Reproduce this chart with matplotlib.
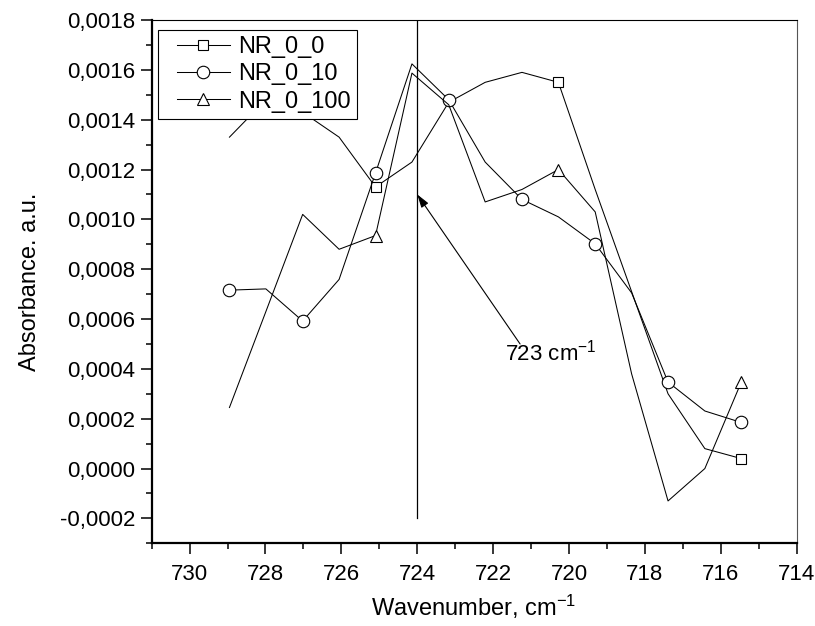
import matplotlib
matplotlib.use("Agg")
import matplotlib.pyplot as plt
from matplotlib.lines import Line2D
from matplotlib.legend_handler import HandlerLine2D
from matplotlib.ticker import MultipleLocator, FuncFormatter

plt.rcParams['font.family'] = ['Liberation Sans', 'DejaVu Sans']
plt.rcParams['mathtext.fontset'] = 'custom'
plt.rcParams['mathtext.rm'] = 'Liberation Sans'
plt.rcParams['mathtext.default'] = 'regular'

# wavenumbers, cm-1
wavenumber = [728.95, 727.99, 727.02, 726.06, 725.10, 724.14, 723.17, 722.21,
              721.24, 720.28, 719.31, 718.35, 717.39, 716.42, 715.46]

nr_0_0 = [0.00133, 0.00148, 0.00143, 0.00133, 0.00113, 0.00123, 0.00147, 0.00155,
          0.00159, 0.00155, 0.00112, 0.00071, 0.00030, 0.00008, 0.00004]
nr_0_10 = [0.000716, 0.000721, 0.000592, 0.000759, 0.001186, 0.001624, 0.00148, 0.00123,
           0.00108, 0.00101, 0.000902, 0.000705, 0.000347, 0.000231, 0.000185]
nr_0_100 = [0.000245, 0.00063, 0.00102, 0.00088, 0.000935, 0.001587, 0.00146, 0.00107,
            0.00112, 0.0012, 0.00103, 0.00038, -0.00013, 0.0000, 0.000347]

series = [
    ("NR_0_0", nr_0_0, "s", 7.5, [4, 9, 14]),
    ("NR_0_10", nr_0_10, "o", 9, list(range(0, 15, 2))),
    ("NR_0_100", nr_0_100, "^", 9, [4, 9, 14]),
]

fig = plt.figure(figsize=(8.15, 6.26), dpi=100)
ax = fig.add_axes([0.1861, 0.1321, 0.7914, 0.8359])

handles = []
for name, vals, mk, ms, every in series:
    ax.plot(wavenumber, vals, color="black", lw=0.75, marker=mk, ms=ms,
            mfc="white", mec="black", mew=0.8, markevery=every)
    handles.append(Line2D([], [], color="black", lw=0.75, marker=mk, ms=ms,
                          mfc="white", mec="black", mew=0.8))

# marker line at 723 band
ax.plot([724, 724], [-0.0002, 0.0018], color="black", lw=0.9)
ax.annotate("", xy=(724.0, 0.00110), xytext=(721.29, 0.00050),
            arrowprops=dict(arrowstyle="-|>,head_length=0.8,head_width=0.25",
                            color="black", lw=0.8, shrinkA=0, shrinkB=0))
ax.text(721.68, 0.000465, "723 cm$^{-1}$", fontsize=16, ha="left", va="center")

ax.set_xlim(731, 714)
ax.set_ylim(-0.0003, 0.0018)
ax.xaxis.set_major_locator(MultipleLocator(2))
ax.xaxis.set_minor_locator(MultipleLocator(1))
ax.yaxis.set_major_locator(MultipleLocator(0.0002))
ax.yaxis.set_minor_locator(MultipleLocator(0.0001))
ax.yaxis.set_major_formatter(FuncFormatter(lambda v, p: f"{v:.4f}".replace(".", ",").replace("-0,0000", "0,0000")))
ax.xaxis.set_major_formatter(FuncFormatter(lambda v, p: f"{v:.0f}"))

ax.tick_params(which="major", direction="out", length=8, width=1.1, labelsize=16)
ax.tick_params(axis="x", which="major", pad=7)
ax.tick_params(axis="y", which="major", pad=4)
ax.tick_params(which="minor", direction="out", length=4, width=1.1)
ax.tick_params(top=False, right=False)
for s in ["left", "bottom"]:
    ax.spines[s].set_linewidth(1.6)
for s in ["top", "right"]:
    ax.spines[s].set_linewidth(0.8)
ax.spines["right"].set_color("#555555")

ax.set_xlabel("Wavenumber, cm$^{-1}$", fontsize=17)
ax.set_ylabel("Absorbance. a.u.", fontsize=17)
ax.xaxis.set_label_coords(0.5, -0.095)
ax.yaxis.set_label_coords(-0.172, 0.5)

leg = ax.legend(handles, [s[0] for s in series], loc="upper left",
                bbox_to_anchor=(0.0098, 0.981), borderaxespad=0, fontsize=17,
                fancybox=False, framealpha=1, edgecolor="black", handlelength=2.8,
                handletextpad=0.34, labelspacing=0.23, borderpad=0.25,
                handler_map={Line2D: HandlerLine2D(xpad=0.55)})
leg.get_frame().set_linewidth(0.8)

fig.savefig("out.png", dpi=100)
